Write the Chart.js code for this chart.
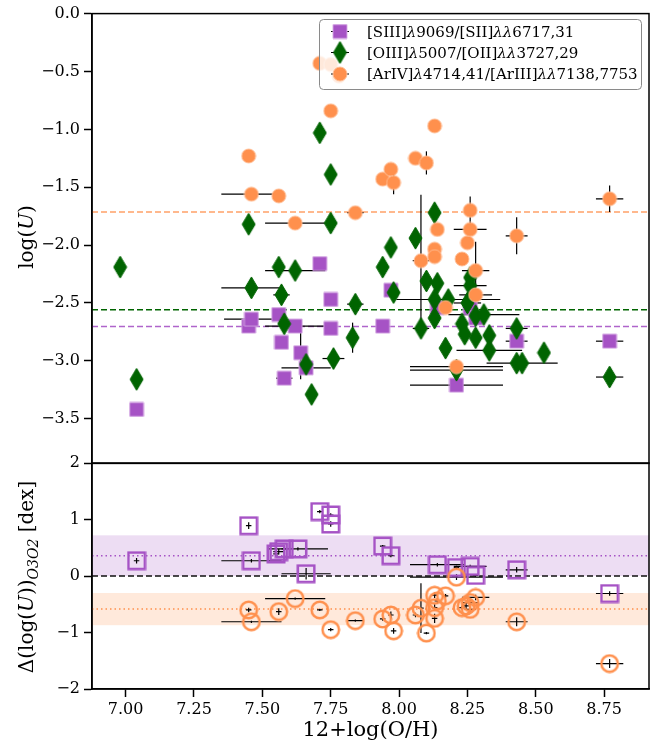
<!DOCTYPE html>
<html>
<head>
<meta charset="utf-8">
<script src="https://cdn.jsdelivr.net/npm/chart.js@4.4.1/dist/chart.umd.min.js"></script>
<style>
  html, body { margin: 0; padding: 0; background: #fff; }
  #wrap { position: relative; width: 668px; height: 745px; }
  canvas { position: absolute; left: 0; }
  #topPanel { top: 0; }
  #bottomPanel { top: 440px; }
</style>
</head>
<body>
<div id="wrap">
  <canvas id="topPanel" width="668" height="477"></canvas>
  <canvas id="bottomPanel" width="668" height="305"></canvas>
</div>
<script>
// shared metallicity axis
const xMin = 6.877, xMax = 8.914;
const xTicks = [7.00, 7.25, 7.50, 7.75, 8.00, 8.25, 8.50, 8.75];
const xTickLabels = ['7.00', '7.25', '7.50', '7.75', '8.00', '8.25', '8.50', '8.75'];

// log(U) axis (upper panel)
const uMin = -3.886, uMax = 0;
const uTicks = [0, -0.5, -1.0, -1.5, -2.0, -2.5, -3.0, -3.5];
const uTickLabels = ['0.0', '\u22120.5', '\u22121.0', '\u22121.5', '\u22122.0', '\u22122.5', '\u22123.0', '\u22123.5'];

// offset axis (lower panel)
const dMin = -2, dMax = 2;
const dTicks = [2, 1, 0, -1, -2];
const dTickLabels = ['2', '1', '0', '\u22121', '\u22122'];

// log(U) from [SIII]/[SII]
const s3s2OH    = [7.04, 7.45, 7.46, 7.56, 7.57, 7.58, 7.62, 7.64, 7.66, 7.71, 7.75, 7.75, 7.94, 7.97, 8.14, 8.26, 8.28, 8.21, 8.43, 8.77];
const s3s2U     = [-3.42, -2.70, -2.64, -2.60, -2.84, -3.15, -2.70, -2.93, -3.06, -2.16, -2.47, -2.72, -2.70, -2.39, -2.54, -2.54, -2.63, -3.21, -2.83, -2.83];
const s3s2OHErr = [0, 0, 0.10, 0, 0, 0.03, 0.11, 0, 0.09, 0, 0, 0, 0, 0, 0, 0, 0, 0.17, 0.04, 0.05];
const s3s2UErr  = [0, 0, 0, 0, 0, 0, 0, 0.23, 0, 0, 0, 0, 0, 0, 0, 0, 0, 0, 0, 0];

// log(U) from [OIII]/[OII]
const o3o2OH    = [6.98, 7.04, 7.45, 7.46, 7.56, 7.57, 7.58, 7.62, 7.66, 7.68, 7.71, 7.75, 7.75, 7.76, 7.83, 7.84, 7.94, 7.97, 7.98, 8.06, 8.08, 8.10, 8.13, 8.13, 8.13, 8.14, 8.17, 8.18, 8.21, 8.23, 8.24, 8.25, 8.26, 8.26, 8.28, 8.28, 8.31, 8.33, 8.33, 8.43, 8.43, 8.45, 8.53, 8.77];
const o3o2U     = [-2.19, -3.16, -1.82, -2.37, -2.19, -2.43, -2.68, -2.22, -3.03, -3.29, -1.03, -1.39, -1.81, -2.98, -2.80, -2.51, -2.19, -2.02, -2.41, -1.94, -2.72, -2.31, -1.72, -2.47, -2.63, -2.33, -2.89, -2.47, -3.08, -2.68, -2.77, -2.50, -2.28, -2.35, -2.61, -2.80, -2.60, -2.78, -2.91, -2.72, -3.02, -3.02, -2.93, -3.14];
const o3o2OHErr = [0, 0, 0, 0.11, 0, 0.03, 0, 0.11, 0, 0, 0, 0, 0, 0.04, 0, 0.03, 0, 0, 0, 0, 0.03, 0, 0, 0, 0, 0, 0, 0.19, 0.17, 0, 0, 0.05, 0, 0.06, 0, 0, 0.13, 0, 0.12, 0.04, 0, 0.13, 0, 0.05];
const o3o2UErr  = [0, 0, 0, 0, 0, 0, 0, 0, 0, 0, 0, 0, 0, 0, 0.13, 0, 0, 0, 0, 0, 0, 0, 0, 0, 0, 0, 0, 0, 0, 0, 0, 0, 0, 0, 0, 0, 0, 0, 0, 0, 0, 0, 0, 0];

// log(U) from [ArIV]/[ArIII]
const ar4ar3OH    = [7.45, 7.46, 7.56, 7.62, 7.71, 7.75, 7.78, 7.75, 7.84, 7.94, 7.97, 7.98, 8.06, 8.10, 8.13, 8.08, 8.13, 8.13, 8.14, 8.17, 8.21, 8.23, 8.25, 8.26, 8.26, 8.28, 8.28, 8.43, 8.77];
const ar4ar3U     = [-1.23, -1.56, -1.575, -1.81, -0.43, -0.44, -0.54, -0.84, -1.72, -1.43, -1.345, -1.46, -1.25, -1.29, -0.97, -2.135, -2.035, -2.10, -1.865, -2.54, -3.05, -2.12, -1.98, -1.70, -1.865, -2.22, -2.43, -1.92, -1.60];
const ar4ar3OHErr = [0, 0.11, 0, 0.11, 0, 0, 0, 0, 0.03, 0, 0, 0, 0, 0, 0, 0.03, 0, 0, 0, 0, 0.17, 0, 0, 0, 0.06, 0.05, 0.06, 0.04, 0.05];
const ar4ar3UErr  = [0, 0, 0, 0, 0, 0, 0, 0, 0, 0, 0, 0.10, 0, 0.10, 0, 0.57, 0, 0, 0, 0, 0, 0, 0, 0.12, 0, 0.25, 0, 0.16, 0.115];

// median log(U) of each diagnostic
const medS3S2 = -2.704;
const medO3O2 = -2.558;
const medAr4Ar3 = -1.713;

// offsets with respect to the O3O2 value
const dS3OH    = [7.04, 7.45, 7.46, 7.55, 7.56, 7.58, 7.63, 7.66, 7.71, 7.75, 7.75, 7.94, 7.97, 8.14, 8.21, 8.26, 8.28, 8.43, 8.77];
const dS3      = [0.27, 0.89, 0.27, 0.39, 0.43, 0.48, 0.48, 0.04, 1.14, 1.08, 0.92, 0.53, 0.36, 0.20, 0.15, 0.17, 0.01, 0.11, -0.31];
const dS3OHErr = [0.01, 0.01, 0.11, 0.01, 0.02, 0.01, 0.11, 0.09, 0.01, 0.01, 0.01, 0.01, 0.01, 0.10, 0.01, 0.06, 0.01, 0.04, 0.05];
const dS3Err   = [0.05, 0.06, 0.03, 0.05, 0.05, 0.04, 0.03, 0.10, 0.03, 0.03, 0.05, 0.02, 0.03, 0.03, 0.03, 0.03, 0.02, 0.05, 0.04];

const dArOH    = [7.45, 7.46, 7.56, 7.62, 7.71, 7.75, 7.84, 7.94, 7.97, 7.98, 8.06, 8.08, 8.10, 8.13, 8.13, 8.13, 8.14, 8.17, 8.21, 8.23, 8.245, 8.26, 8.26, 8.28, 8.43, 8.77];
const dAr      = [-0.60, -0.81, -0.63, -0.40, -0.60, -0.95, -0.79, -0.76, -0.69, -0.97, -0.69, -0.57, -1.01, -0.34, -0.56, -0.75, -0.44, -0.35, -0.02, -0.56, -0.53, -0.47, -0.59, -0.38, -0.81, -1.55];
const dArOHErr = [0.01, 0.11, 0.01, 0.11, 0.01, 0.01, 0.03, 0.01, 0.01, 0.01, 0.01, 0.01, 0.01, 0.01, 0.01, 0.01, 0.01, 0.01, 0.17, 0.01, 0.01, 0.03, 0.02, 0.05, 0.04, 0.05];
const dArErr   = [0.04, 0.02, 0.06, 0.02, 0.02, 0.03, 0.02, 0.03, 0.06, 0.05, 0.04, 0.44, 0.02, 0.05, 0.06, 0.08, 0.05, 0.03, 0.05, 0.03, 0.05, 0.04, 0.05, 0.05, 0.08, 0.08];

// mean and scatter of the offsets
const dS3Mean = 0.36, dS3Std = 0.36;
const dArMean = -0.586, dArStd = 0.285;

const purple = '#a653c5';
const green = '#006400';
const orange = '#ff904d';
const serif = '"DejaVu Serif", "Liberation Serif", serif';

Chart.defaults.font.family = serif;
Chart.defaults.color = '#000';

// marker sprites, used as point styles
function marker(shape, w, h, fill, stroke, lw) {
  const c = document.createElement('canvas');
  c.width = w; c.height = h;
  const g = c.getContext('2d');
  const m = lw / 2 + 0.5;
  g.beginPath();
  if (shape === 'square') g.rect(m, m, w - 2 * m, h - 2 * m);
  else if (shape === 'circle') g.arc(w / 2, h / 2, w / 2 - m, 0, 2 * Math.PI);
  else { g.moveTo(w / 2, m); g.lineTo(w - m, h / 2); g.lineTo(w / 2, h - m); g.lineTo(m, h / 2); g.closePath(); }
  if (fill) { g.fillStyle = fill; g.fill(); }
  if (stroke) { g.strokeStyle = stroke; g.lineWidth = lw; g.stroke(); }
  return c;
}
const sqFilled = marker('square', 16, 16, purple, 'rgba(214,170,228,0.9)', 1);
const dmFilled = marker('diamond', 15, 24, green, green, 1);
const ciFilled = marker('circle', 16, 16, orange, 'rgba(255,190,150,0.9)', 1);
const sqOpen = marker('square', 20, 20, null, purple, 2.5);
const ciOpen = marker('circle', 20, 20, null, orange, 2.5);

function points(xs, ys) { return xs.map((x, i) => ({ x, y: ys[i] })); }

function series(xs, ys, xe, ye, img, order) {
  return {
    data: points(xs, ys), xErr: xe, yErr: ye, order,
    pointStyle: img, pointRadius: 7, showLine: false
  };
}

function xAxis(show) {
  const axis = {
    type: 'linear', min: xMin, max: xMax, display: show,
    afterBuildTicks: s => { s.ticks = xTicks.map(v => ({ value: v })); },
    ticks: { autoSkip: false, maxRotation: 0, font: { size: 16 }, padding: 3, callback: (v, i) => xTickLabels[i] },
    grid: { drawOnChartArea: false, tickLength: 8, tickWidth: 1.5, color: '#000' },
    border: { color: '#000', width: 1.5 }
  };
  if (show) axis.afterFit = s => { s.height = 56; };
  return axis;
}

function yAxis(min, max, ticks, labels) {
  return {
    type: 'linear', min, max,
    afterFit: s => { s.width = 92; },
    afterBuildTicks: s => { s.ticks = ticks.map(v => ({ value: v })); },
    ticks: { autoSkip: false, font: { size: 16 }, padding: 4, callback: (v, i) => labels[i] },
    grid: { drawOnChartArea: false, tickLength: 8, tickWidth: 1.5, color: '#000' },
    border: { color: '#000', width: 1.5 }
  };
}

// mixed roman / italic / subscript text
function richText(ctx, parts, x, y, size, angle, align) {
  ctx.save();
  ctx.translate(x, y);
  ctx.rotate(angle);
  ctx.fillStyle = '#000';
  ctx.textBaseline = 'alphabetic';
  const fontOf = p => (p.it ? 'italic ' : '') + (p.sub ? size * 0.7 : size) + 'px ' + serif;
  let total = 0;
  parts.forEach(p => { ctx.font = fontOf(p); total += ctx.measureText(p.t).width; });
  let cx = align === 'left' ? 0 : -total / 2;
  parts.forEach(p => {
    ctx.font = fontOf(p);
    ctx.fillText(p.t, cx, size * 0.36 + (p.sub ? size * 0.22 : 0));
    cx += ctx.measureText(p.t).width;
  });
  ctx.restore();
}

const errorBars = {
  id: 'errorBars',
  beforeDatasetsDraw(chart) {
    const { ctx, scales: { x, y } } = chart;
    ctx.save();
    ctx.strokeStyle = '#000';
    ctx.lineWidth = 1.2;
    chart.data.datasets.forEach(ds => {
      ds.data.forEach((p, i) => {
        const px = x.getPixelForValue(p.x), py = y.getPixelForValue(p.y);
        const xe = ds.xErr[i], ye = ds.yErr[i];
        ctx.beginPath();
        if (xe) { ctx.moveTo(x.getPixelForValue(p.x - xe), py); ctx.lineTo(x.getPixelForValue(p.x + xe), py); }
        if (ye) { ctx.moveTo(px, y.getPixelForValue(p.y - ye)); ctx.lineTo(px, y.getPixelForValue(p.y + ye)); }
        ctx.stroke();
      });
    });
    ctx.restore();
  }
};

const frame = {
  id: 'frame',
  afterDraw(chart) {
    const { ctx, chartArea: a } = chart;
    ctx.save();
    ctx.strokeStyle = '#000';
    ctx.lineWidth = 1.5;
    ctx.strokeRect(a.left, a.top, a.right - a.left, a.bottom - a.top);
    ctx.restore();
  }
};

function hline(chart, v, color, dash, lw) {
  const { ctx, chartArea: a, scales: { y } } = chart;
  const py = y.getPixelForValue(v);
  ctx.save();
  ctx.strokeStyle = color; ctx.lineWidth = lw; ctx.setLineDash(dash);
  ctx.beginPath(); ctx.moveTo(a.left, py); ctx.lineTo(a.right, py); ctx.stroke();
  ctx.restore();
}

function band(chart, lo, hi, color) {
  const { ctx, chartArea: a, scales: { y } } = chart;
  const y1 = y.getPixelForValue(hi), y2 = y.getPixelForValue(lo);
  ctx.save();
  ctx.fillStyle = color;
  ctx.fillRect(a.left, y1, a.right - a.left, y2 - y1);
  ctx.restore();
}

// upper panel: median lines, axis title and legend
const upperDecor = {
  id: 'upperDecor',
  beforeDatasetsDraw(chart) {
    hline(chart, medAr4Ar3, 'rgba(255,144,77,0.85)', [6, 3], 1.5);
    hline(chart, medO3O2, green, [6, 3], 1.5);
    hline(chart, medS3S2, 'rgba(166,83,197,0.9)', [6, 3], 1.5);
  },
  afterDraw(chart) {
    const ctx = chart.ctx;
    richText(ctx, [{ t: 'log(' }, { t: 'U', it: 1 }, { t: ')' }], 26, 237, 20, -Math.PI / 2);

    // legend box
    ctx.save();
    ctx.beginPath();
    ctx.roundRect(319.5, 19.5, 322, 70, 4);
    ctx.fillStyle = 'rgba(255,255,255,0.8)';
    ctx.fill();
    ctx.strokeStyle = '#8a8a8a';
    ctx.lineWidth = 1;
    ctx.stroke();
    const rows = [
      { img: sqFilled, y: 31.5, parts: [{ t: '[SIII]' }, { t: '\u03bb', it: 1 }, { t: '9069/[SII]' }, { t: '\u03bb\u03bb', it: 1 }, { t: '6717,31' }] },
      { img: dmFilled, y: 52.5, parts: [{ t: '[OIII]' }, { t: '\u03bb', it: 1 }, { t: '5007/[OII]' }, { t: '\u03bb\u03bb', it: 1 }, { t: '3727,29' }] },
      { img: ciFilled, y: 74, parts: [{ t: '[ArIV]' }, { t: '\u03bb', it: 1 }, { t: '4714,41/[ArIII]' }, { t: '\u03bb\u03bb', it: 1 }, { t: '7138,7753' }] }
    ];
    rows.forEach(r => {
      ctx.strokeStyle = '#000'; ctx.lineWidth = 1;
      ctx.beginPath(); ctx.moveTo(331, r.y); ctx.lineTo(349, r.y); ctx.stroke();
      ctx.drawImage(r.img, 340 - r.img.width / 2, r.y - r.img.height / 2);
      richText(ctx, r.parts, 367, r.y, 15, 0, 'left');
    });
    ctx.restore();
  }
};

// lower panel: scatter bands, zero line and axis titles
const lowerDecor = {
  id: 'lowerDecor',
  beforeDatasetsDraw(chart) {
    band(chart, dS3Mean - dS3Std, dS3Mean + dS3Std, 'rgba(166,83,197,0.2)');
    band(chart, dArMean - dArStd, dArMean + dArStd, 'rgba(255,144,77,0.2)');
    hline(chart, dS3Mean, purple, [1.5, 3], 1.5);
    hline(chart, dArMean, orange, [1.5, 3], 1.5);
    hline(chart, 0, '#111', [6, 3], 1.5);
  },
  afterDraw(chart) {
    const ctx = chart.ctx;
    richText(ctx, [{ t: '\u0394(log(' }, { t: 'U', it: 1 }, { t: '))' }, { t: 'O3O2', it: 1, sub: 1 }, { t: ' [dex]' }], 26, 137, 20, -Math.PI / 2);
    richText(ctx, [{ t: '12+log(O/H)' }], 370.5, 288, 21, 0);
  }
};

new Chart(document.getElementById('topPanel'), {
  type: 'scatter',
  data: {
    datasets: [
      series(s3s2OH, s3s2U, s3s2OHErr, s3s2UErr, sqFilled, 2),
      series(o3o2OH, o3o2U, o3o2OHErr, o3o2UErr, dmFilled, 1),
      series(ar4ar3OH, ar4ar3U, ar4ar3OHErr, ar4ar3UErr, ciFilled, 0)
    ]
  },
  options: {
    responsive: false,
    animation: false,
    events: [],
    layout: { padding: { left: 0, right: 19, top: 12, bottom: 7 } },
    plugins: { legend: { display: false }, tooltip: { enabled: false } },
    scales: { x: xAxis(false), y: yAxis(uMin, uMax, uTicks, uTickLabels) }
  },
  plugins: [upperDecor, errorBars, frame]
});

new Chart(document.getElementById('bottomPanel'), {
  type: 'scatter',
  data: {
    datasets: [
      series(dS3OH, dS3, dS3OHErr, dS3Err, sqOpen, 1),
      series(dArOH, dAr, dArOHErr, dArErr, ciOpen, 0)
    ]
  },
  options: {
    responsive: false,
    animation: false,
    events: [],
    layout: { padding: { left: 0, right: 19, top: 23, bottom: 0 } },
    plugins: { legend: { display: false }, tooltip: { enabled: false } },
    scales: { x: xAxis(true), y: yAxis(dMin, dMax, dTicks, dTickLabels) }
  },
  plugins: [lowerDecor, errorBars, frame]
});
</script>
</body>
</html>
